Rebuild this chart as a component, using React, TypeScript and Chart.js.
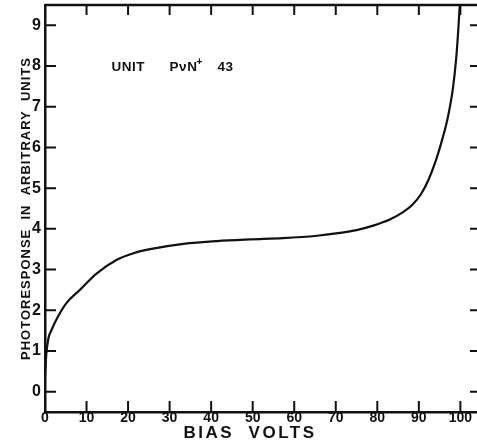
import React, { useEffect, useRef } from "react";
import { Chart, registerables } from "chart.js";

Chart.register(...registerables);

// ---- data ----
const biasVolts = [0, 0.3, 0.8, 1.6, 3, 5.2, 8.4, 12.4, 17.3, 21.3, 25.3, 33.3, 41.4, 49.4, 57.3, 65.5, 71, 75, 79, 83, 86, 88.5, 90.5, 92.3, 94, 95.5, 97, 98.2, 99, 99.5, 99.85];
const photoresponse = [0.35, 0.9, 1.3, 1.52, 1.82, 2.18, 2.5, 2.9, 3.24, 3.4, 3.5, 3.63, 3.7, 3.74, 3.77, 3.83, 3.9, 3.97, 4.08, 4.23, 4.4, 4.6, 4.85, 5.2, 5.65, 6.15, 6.75, 7.45, 8.2, 8.9, 9.5];
const xTickValues = [0, 10, 20, 30, 40, 50, 60, 70, 80, 90, 100];
const yTickValues = [0, 1, 2, 3, 4, 5, 6, 7, 8, 9];
const xTitle = "BIAS  VOLTS";
const yTitle = "PHOTORESPONSE  IN  ARBITRARY  UNITS";
const unitWord = "UNIT";
const deviceName = "P\u03BDN";
const deviceSup = "+";
const deviceNumber = "43";

const NARROW = '"Liberation Sans Narrow", "Liberation Sans", Arial, sans-serif';
const SANS = '"Liberation Sans", Arial, sans-serif';

const framePlugin = {
  id: "frame",
  afterDraw(chart: any) {
    const { ctx, chartArea } = chart;
    const xs = chart.scales.x;
    const ys = chart.scales.y;
    const { left, right, top, bottom } = chartArea;
    ctx.save();
    ctx.strokeStyle = "#111";
    // top border
    ctx.lineWidth = 2.5;
    ctx.beginPath();
    ctx.moveTo(left, top);
    ctx.lineTo(right, top);
    ctx.stroke();
    // inward ticks
    ctx.lineWidth = 2;
    ctx.beginPath();
    xTickValues.forEach((v) => {
      if (v === 0) return;
      const px = xs.getPixelForValue(v);
      ctx.moveTo(px, bottom);
      ctx.lineTo(px, bottom - 11);
      ctx.moveTo(px, top);
      ctx.lineTo(px, top + 10);
    });
    yTickValues.forEach((v) => {
      const py = ys.getPixelForValue(v);
      ctx.moveTo(left, py);
      ctx.lineTo(left + 11, py);
      ctx.moveTo(right - 7, py);
      ctx.lineTo(right, py);
    });
    ctx.stroke();

    // axis titles
    ctx.fillStyle = "#111";
    ctx.textBaseline = "alphabetic";
    ctx.textAlign = "center";
    ctx.font = `bold 17px ${SANS}`;
    (ctx as any).letterSpacing = "2.5px";
    ctx.fillText(xTitle, 250, 438);

    ctx.save();
    ctx.translate(30, (top + bottom) / 2);
    ctx.rotate(-Math.PI / 2);
    ctx.font = `bold 13px ${SANS}`;
    (ctx as any).letterSpacing = "1px";
    ctx.fillText(yTitle, 0, 0);
    ctx.restore();

    // annotation
    ctx.textAlign = "left";
    (ctx as any).letterSpacing = "0.5px";
    ctx.font = `bold 13.5px ${SANS}`;
    const ax = xs.getPixelForValue(16);
    const ay = ys.getPixelForValue(7.88);
    ctx.fillText(unitWord, ax, ay);
    const bx = xs.getPixelForValue(30);
    ctx.fillText(deviceName, bx, ay);
    const w = ctx.measureText(deviceName).width;
    ctx.font = `bold 10px ${SANS}`;
    ctx.fillText(deviceSup, bx + w - 1, ay - 6);
    ctx.font = `bold 13.5px ${SANS}`;
    ctx.fillText(deviceNumber, xs.getPixelForValue(41.5), ay);
    ctx.restore();
  },
};

export default function App() {
  const ref = useRef<HTMLCanvasElement | null>(null);
  useEffect(() => {
    if (!ref.current) return;
    const chart = new Chart(ref.current, {
      type: "scatter",
      data: {
        datasets: [
          {
            label: "Photoresponse",
            data: biasVolts.map((x, i) => ({ x, y: photoresponse[i] })),
            showLine: true,
            borderColor: "#111",
            borderWidth: 2.2,
            pointRadius: 0,
            cubicInterpolationMode: "monotone",
            fill: false,
          },
        ],
      },
      options: {
        animation: false,
        responsive: false,
        maintainAspectRatio: false,
        layout: { padding: { top: 5, right: 0, left: 0, bottom: 0 } },
        plugins: { legend: { display: false }, tooltip: { enabled: false } },
        scales: {
          x: {
            type: "linear",
            min: 0,
            max: 104,
            grid: { display: false, drawTicks: false, tickLength: 0 },
            border: { display: true, color: "#111", width: 2.5 },
            afterBuildTicks: (s: any) => {
              s.ticks = xTickValues.map((value) => ({ value }));
            },
            afterFit: (s: any) => {
              s.height = 30;
              s.paddingLeft = 0;
              s.paddingRight = 0;
              s.paddingTop = 0;
              s.paddingBottom = 0;
            },
            ticks: {
              color: "#111",
              padding: -2,
              autoSkip: false,
              maxRotation: 0,
              font: { family: NARROW, size: 14, weight: "bold" },
            },
          },
          y: {
            type: "linear",
            min: -0.5,
            max: 9.5,
            grid: { display: false, drawTicks: false, tickLength: 0 },
            border: { display: true, color: "#111", width: 2.5 },
            afterBuildTicks: (s: any) => {
              s.ticks = yTickValues.map((value) => ({ value }));
            },
            afterFit: (s: any) => {
              s.width = 45;
              s.paddingLeft = 0;
              s.paddingRight = 0;
              s.paddingTop = 0;
              s.paddingBottom = 0;
            },
            ticks: {
              color: "#111",
              padding: 4,
              autoSkip: false,
              font: { family: NARROW, size: 16, weight: "bold" },
            },
          },
        },
      },
      plugins: [framePlugin],
    } as any);
    return () => chart.destroy();
  }, []);
  return (
    <div style={{ position: "absolute", left: 0, top: 0, width: 477, height: 442, background: "#fff" }}>
      <canvas ref={ref} width={477} height={442} style={{ display: "block" }} />
    </div>
  );
}
